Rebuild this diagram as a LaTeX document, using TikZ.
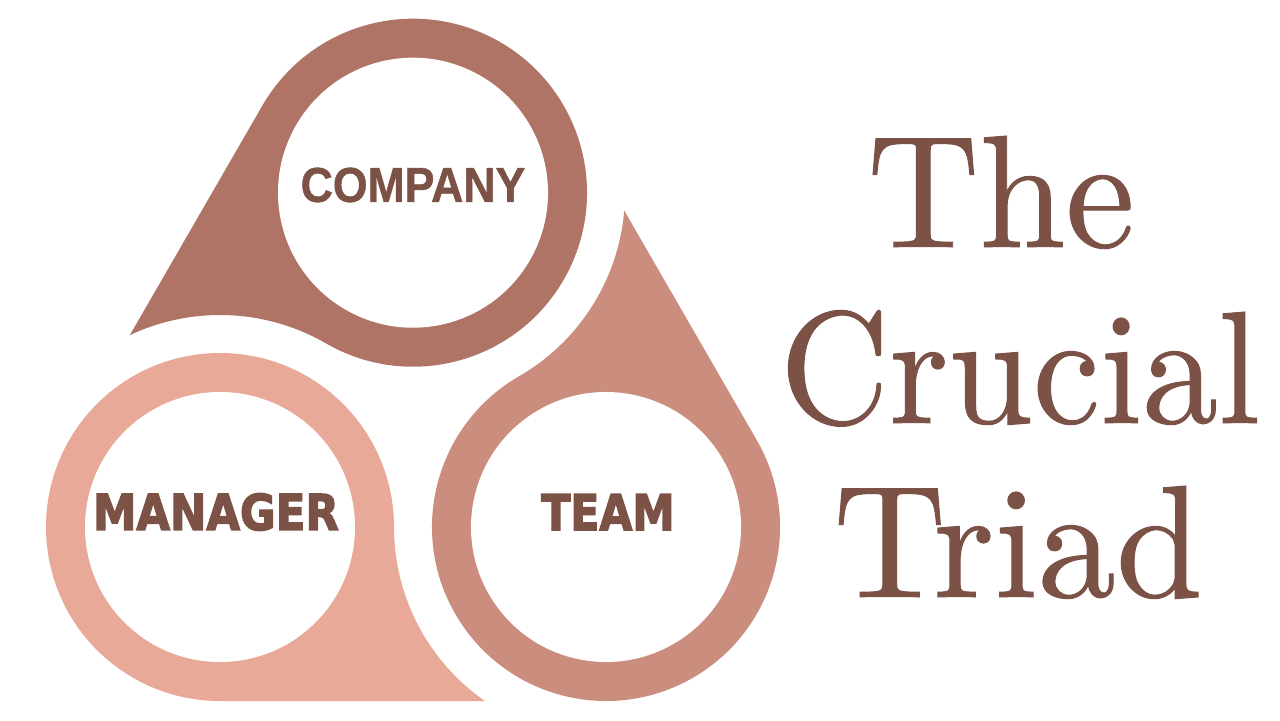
\documentclass[tikz,border=0pt]{standalone}
\usepackage{fontspec}
\usepackage{tikz}

\definecolor{companyc}{HTML}{B07466}
\definecolor{teamc}{HTML}{CB8D7D}
\definecolor{managerc}{HTML}{E8A998}
\definecolor{textc}{HTML}{7C5247}

\newfontfamily\labelfont{Liberation Sans}[BoldFeatures={FakeBold=1}]
\newfontfamily\heavyfont{DejaVu Sans}[BoldFeatures={FakeBold=3}]
\newfontfamily\titlefont{lmroman10-regular}[Extension=.otf, FakeBold=0.6]

\begin{document}
\begin{tikzpicture}[x=0.5pt,y=0.5pt]
    \tikzstyle{ringlabel} = [text=textc, inner sep=0pt]
    \tikzstyle{titleword} = [text=textc, inner sep=0pt, anchor=base, font=\titlefont\fontsize{80}{80}\selectfont]

    % Canvas
    \useasboundingbox (0,0) rectangle (1280,720);
    \fill[white] (0,0) rectangle (1280,720);

    % Draw the three drops, each one turned by 120 degrees
    % (the hollow side of a drop follows the ring of its neighbour)
    \foreach \ang/\cx/\cy/\col in {0/220/193/managerc, 120/606/193/teamc, 240/413/527.3/companyc} {
        \begin{scope}[shift={(\cx,\cy)}, rotate=\ang]
            \fill[\col] (264.9,-174) -- (0,-174)
                arc[start angle=270, end angle=0, radius=174]
                arc[start angle=180, end angle=235.2, radius=212] -- cycle;
            \fill[white] (0,0) circle[radius=135];
        \end{scope}
    }

    % Labels inside the rings
    \node[ringlabel, font=\labelfont\bfseries\fontsize{24.5}{24.5}\selectfont] (company) at (413,535) {\scalebox{0.91}[1]{COMPANY}};
    \node[ringlabel, font=\heavyfont\bfseries\fontsize{24.7}{24.7}\selectfont] (manager) at (216,208) {\scalebox{0.88}[1]{MANAGER}};
    \node[ringlabel, font=\heavyfont\bfseries\fontsize{24.7}{24.7}\selectfont] (team) at (608,208) {\scalebox{0.86}[1]{TEAM}};

    % Title on the right
    \node[titleword] (the) at (1001,473) {\scalebox{0.97}[1]{The}};
    \node[titleword] (crucial) at (1020,297) {\scalebox{0.947}[1]{Crucial}};
    \node[titleword] (triad) at (1018,123) {\scalebox{0.975}[1]{Triad}};
\end{tikzpicture}
\end{document}
